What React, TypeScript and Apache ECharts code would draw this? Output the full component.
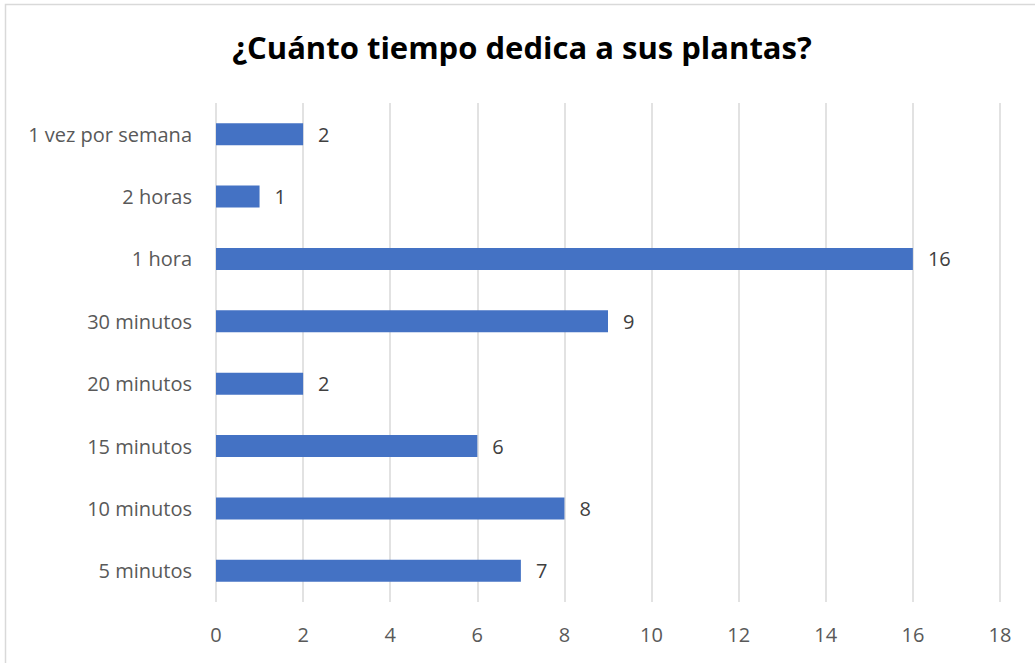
import React, { useEffect, useRef } from "react";
import * as echarts from "echarts";

const titleText = "¿Cuánto tiempo dedica a sus plantas?";
const categories = [
  "5 minutos",
  "10 minutos",
  "15 minutos",
  "20 minutos",
  "30 minutos",
  "1 hora",
  "2 horas",
  "1 vez por semana",
];
const values = [7, 8, 6, 2, 9, 16, 1, 2];
const xMin = 0;
const xMax = 18;
const xInterval = 2;

const FONT = "'Open Sans', 'Noto Sans', sans-serif";

export default function App() {
  const ref = useRef<HTMLDivElement>(null);
  useEffect(() => {
    document.body.style.margin = "0";
    const chart = echarts.init(ref.current!, undefined, { renderer: "svg" });
    chart.setOption({
      animation: false,
      backgroundColor: "#ffffff",
      title: {
        text: titleText,
        left: 517,
        top: 26,
        textAlign: "center",
        textStyle: {
          fontFamily: FONT,
          fontSize: 31,
          fontWeight: "bold",
          color: "#000000",
        },
      },
      graphic: [
        {
          type: "rect",
          shape: { x: 5.5, y: 4.5, width: 1100, height: 700 },
          style: { fill: "none", stroke: "#d9d9d9", lineWidth: 1.5 },
          silent: true,
        },
      ],
      grid: { left: 216, right: 35, top: 103, bottom: 61, containLabel: false },
      xAxis: {
        type: "value",
        min: xMin,
        max: xMax,
        interval: xInterval,
        axisLine: { show: false },
        axisTick: { show: false },
        splitLine: { show: true, lineStyle: { color: "#d9d9d9", width: 1.5 } },
        axisLabel: {
          margin: 22,
          fontFamily: FONT,
          fontSize: 20,
          color: "#595959",
        },
      },
      yAxis: {
        type: "category",
        data: categories,
        axisLine: { show: false },
        axisTick: { show: false },
        axisLabel: {
          margin: 24,
          fontFamily: FONT,
          fontSize: 20,
          color: "#595959",
        },
      },
      series: [
        {
          type: "bar",
          data: values,
          barWidth: 22,
          itemStyle: { color: "#4472c4" },
          label: {
            show: true,
            position: "right",
            distance: 15,
            fontFamily: FONT,
            fontSize: 20,
            color: "#404040",
          },
        },
      ],
    });
    return () => chart.dispose();
  }, []);
  return <div ref={ref} style={{ width: 1035, height: 663 }} />;
}
